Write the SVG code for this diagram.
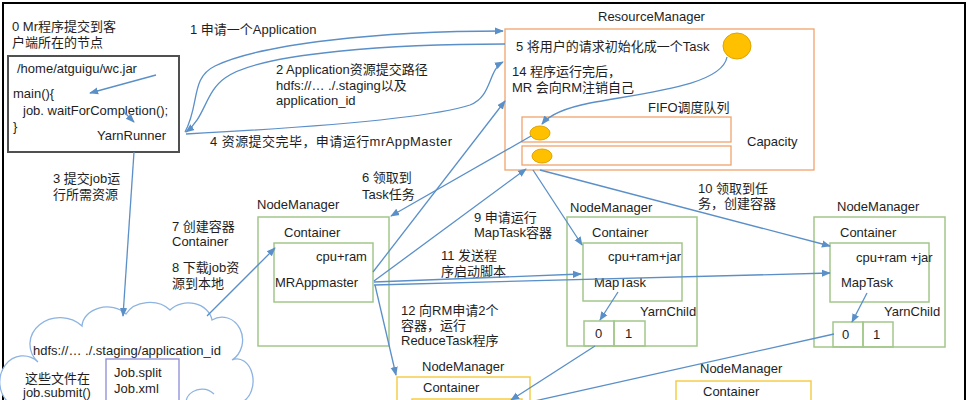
<svg xmlns="http://www.w3.org/2000/svg" width="969" height="400" viewBox="0 0 969 400">
<defs>
<marker id="ah" viewBox="0 0 10 10" refX="9" refY="5" markerWidth="9" markerHeight="9" markerUnits="userSpaceOnUse" orient="auto">
<path d="M0,1 L10,5 L0,9 z" fill="#5a8fc8"/>
</marker>
<style>
text{font-family:"Liberation Sans","Noto Sans CJK SC",sans-serif;font-size:13px;fill:#1e1e1e}
.frame{fill:none;stroke:#000;stroke-width:2}
.client{fill:#fff;stroke:#505050;stroke-width:2}
.rm{fill:none;stroke:#f0a46c;stroke-width:1.3}
.dot{fill:#ffc000;stroke:#e0a400;stroke-width:1}
.nm{fill:none;stroke:#a3c78a;stroke-width:1.5}
.ynm{fill:none;stroke:#f5cd4c;stroke-width:1.5}
.cloud{fill:#fff;stroke:#8db3e2;stroke-width:1.3}
.job{fill:none;stroke:#8a8ad6;stroke-width:1.3}
.c{fill:none;stroke:#5a8fc8;stroke-width:1.3}
.ca{fill:none;stroke:#5a8fc8;stroke-width:1.3;marker-end:url(#ah)}
</style>
</defs>
<rect width="969" height="400" fill="#fff"/>
<rect class="frame" x="3" y="3" width="962" height="420"/>

<g id="client">
<text x="12" y="31">0 Mr程序提交到客</text>
<text x="12" y="47">户端所在的节点</text>
<rect class="client" x="8" y="56" width="171" height="96"/>
<text x="17" y="73">/home/atguigu/wc.jar</text>
<text x="13" y="98">main(){</text>
<text x="23" y="115">job. waitForCompletion();</text>
<text x="13" y="131">}</text>
<text x="97" y="140">YarnRunner</text>
</g>

<g id="resourcemanager">
<text x="598" y="21">ResourceManager</text>
<rect class="rm" x="505" y="29" width="309" height="141"/>
<text x="516" y="51">5 将用户的请求初始化成一个Task</text>
<ellipse class="dot" cx="737" cy="46" rx="14" ry="13"/>
<text x="512" y="76">14 程序运行完后，</text>
<text x="512" y="92">MR 会向RM注销自己</text>
<text x="648" y="112">FIFO调度队列</text>
<rect class="rm" x="522" y="117" width="209" height="25"/>
<rect class="rm" x="522" y="146" width="209" height="19"/>
<ellipse class="dot" cx="540" cy="133" rx="10" ry="7"/>
<ellipse class="dot" cx="542" cy="156" rx="10" ry="7"/>
<text x="747" y="146">Capacity</text>
</g>

<g id="hdfs">
<path class="cloud" d="M8,402 A16 18 0 0 1 38,362 A25 22 0 0 1 82,326 A25 20 0 0 1 126,314 A26 20 0 0 1 170,310 A24 20 0 0 1 212,320 A18 20 0 0 1 232,360 A16 22 0 0 1 242,402 Z"/>
<path class="cloud" d="M186,402 A16 14 0 0 1 214,394" fill="none"/>
<text x="33" y="355">hdfs://… ./.staging/application_id</text>
<rect class="job" x="106" y="359" width="73" height="60"/>
<text x="114" y="377">Job.split</text>
<text x="114" y="393">Job.xml</text>
<text x="25" y="383">这些文件在</text>
<text x="23" y="397">job.submit()</text>
</g>

<g id="nm1">
<text x="257" y="209">NodeManager</text>
<rect class="nm" x="258" y="217" width="131" height="129"/>
<text x="284" y="237">Container</text>
<rect class="nm" x="274" y="243" width="99" height="59"/>
<text x="316" y="261">cpu+ram</text>
<text x="275" y="287">MRAppmaster</text>
</g>

<g id="nm2">
<text x="570" y="212">NodeManager</text>
<rect class="nm" x="567" y="217" width="130" height="129"/>
<text x="592" y="237">Container</text>
<rect class="nm" x="583" y="243" width="99" height="58"/>
<text x="608" y="261">cpu+ram+jar</text>
<text x="594" y="287">MapTask</text>
<text x="640" y="316">YarnChild</text>
<rect class="nm" x="584" y="321" width="30" height="25" fill="#fff"/>
<rect class="nm" x="614" y="321" width="31" height="25"/>
<text x="595" y="338">0</text>
<text x="625" y="338">1</text>
</g>

<g id="nm3">
<text x="837" y="211">NodeManager</text>
<rect class="nm" x="814" y="217" width="131" height="130"/>
<text x="840" y="237">Container</text>
<rect class="nm" x="830" y="243" width="99" height="59"/>
<text x="856" y="262">cpu+ram +jar</text>
<text x="841" y="287">MapTask</text>
<text x="884" y="316">YarnChild</text>
<rect class="nm" x="833" y="322" width="30" height="25"/>
<rect class="nm" x="863" y="322" width="30" height="25"/>
<text x="842" y="339">0</text>
<text x="873" y="339">1</text>
</g>

<g id="nm4">
<text x="422" y="371">NodeManager</text>
<rect class="ynm" x="397" y="377" width="133" height="40"/>
<text x="423" y="392">Container</text>
<rect class="ynm" x="412" y="399" width="110" height="30"/>
</g>

<g id="nm5">
<text x="700" y="373">NodeManager</text>
<rect class="ynm" x="676" y="381" width="135" height="40"/>
<text x="703" y="396">Container</text>
</g>

<g id="labels">
<text x="190" y="34">1 申请一个Application</text>
<text x="276" y="74">2 Application资源提交路径</text>
<text x="276" y="90">hdfs://… ./.staging以及</text>
<text x="276" y="105">application_id</text>
<text x="210" y="146" textLength="242" lengthAdjust="spacing">4 资源提交完毕，申请运行mrAppMaster</text>
<text x="53" y="183">3 提交job运</text>
<text x="53" y="199">行所需资源</text>
<text x="362" y="182">6 领取到</text>
<text x="362" y="199">Task任务</text>
<text x="172" y="231">7 创建容器</text>
<text x="172" y="246">Container</text>
<text x="172" y="272">8 下载job资</text>
<text x="172" y="288">源到本地</text>
<text x="474" y="222">9 申请运行</text>
<text x="474" y="237">MapTask容器</text>
<text x="698" y="193">10 领取到任</text>
<text x="698" y="208">务，创建容器</text>
<text x="441" y="260">11 发送程</text>
<text x="441" y="276">序启动脚本</text>
<text x="401" y="315">12 向RM申请2个</text>
<text x="401" y="330">容器，运行</text>
<text x="401" y="345">ReduceTask程序</text>
</g>

<g id="connectors">
<path class="ca" d="M185,132 C200,105 190,78 215,66 C260,44 380,31 503,31"/>
<path class="ca" d="M505,44 C400,44 260,52 225,78 C205,92 205,118 186,132"/>
<path class="ca" d="M186,134 C300,128 430,118 470,105 C492,97 488,70 503,62"/>
<path class="ca" d="M727,57 C722,85 650,92 590,103 C565,108 550,114 542,124"/>
<path class="ca" d="M156,75 L90,93"/>
<path class="ca" d="M124,112 L134,122"/>
<path class="ca" d="M134,152 L123,316"/>
<path class="ca" d="M207,316 L275,248"/>
<path class="ca" d="M373,272 L505,101"/>
<path class="ca" d="M531,136 L391,216"/>
<path class="ca" d="M374,281 L526,169"/>
<path class="ca" d="M533,170 L582,245"/>
<path class="ca" d="M540,170 L830,246"/>
<path class="ca" d="M374,282 L581,274"/>
<path class="ca" d="M374,285 L830,273"/>
<path class="ca" d="M375,285 L396,375"/>
<path class="ca" d="M618,292 L600,320"/>
<path class="ca" d="M867,293 L852,322"/>
<path class="ca" d="M595,346 L511,400"/>
<path class="c" d="M834,334 L530,402"/>
</g>
</svg>
